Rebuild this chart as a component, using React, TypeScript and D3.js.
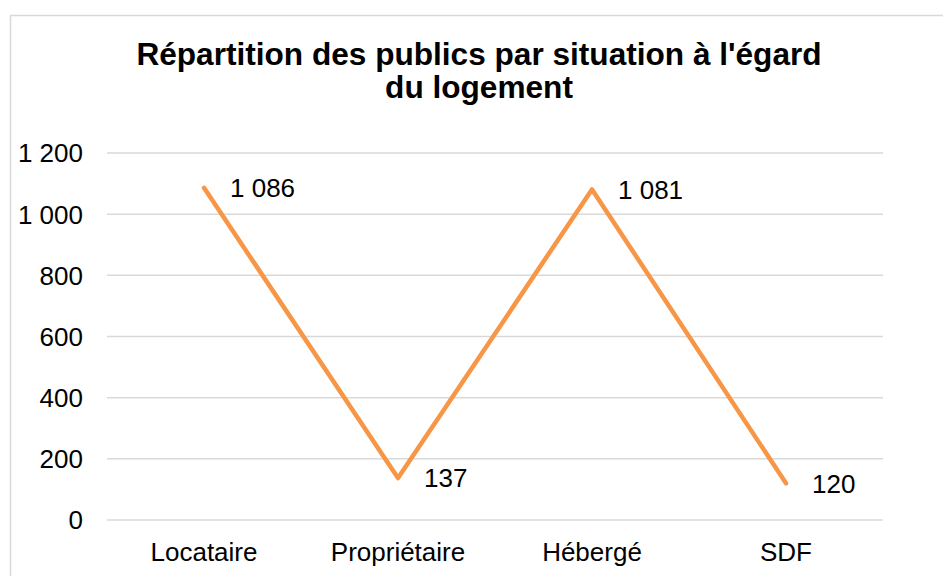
import React from "react";
import * as d3 from "d3";

const categories = ["Locataire", "Propriétaire", "Hébergé", "SDF"];
const values = [1086, 137, 1081, 120];
const yTicks = [0, 200, 400, 600, 800, 1000, 1200];
const titleLines = ["Répartition des publics par situation à l'égard", "du logement"];

const W = 943;
const H = 576;
const FONT = "Liberation Sans, Arial, sans-serif";

const fmt = (v: number) => d3.format(",")(v).replace(/,/g, " ");

export default function App() {
  const x = d3.scaleBand<string>().domain(categories).range([107, 883]);
  const y = d3.scaleLinear().domain([0, 1200]).range([520, 153]);
  const cx = (c: string) => (x(c) as number) + x.bandwidth() / 2;
  const line = d3
    .line<number>()
    .x((_, i) => cx(categories[i]))
    .y((d) => y(d));

  return (
    <svg
      width={W}
      height={H}
      style={{ position: "absolute", left: 0, top: 0, background: "#fff" }}
      fontFamily={FONT}
    >
      <rect x={0} y={0} width={W} height={H} fill="#fff" />
      <rect x={10.5} y={15.5} width={W + 20} height={H + 20} fill="#fff" stroke="#d9d9d9" strokeWidth={1.5} />
      {titleLines.map((t, i) => (
        <text key={i} x={479} y={65 + i * 33} textAnchor="middle" fontSize={31.6} fontWeight="bold" fill="#000">
          {t}
        </text>
      ))}
      {yTicks.map((t) => (
        <g key={t}>
          <line x1={107} x2={883} y1={y(t)} y2={y(t)} stroke="#d9d9d9" strokeWidth={1.5} />
          <text x={83} y={y(t)} dy="0.36em" textAnchor="end" fontSize={26} fill="#000">
            {fmt(t)}
          </text>
        </g>
      ))}
      {categories.map((c) => (
        <text key={c} x={cx(c)} y={561} textAnchor="middle" fontSize={26} fill="#000">
          {c}
        </text>
      ))}
      <path d={line(values) || ""} fill="none" stroke="#f79646" strokeWidth={4.5} strokeLinecap="round" strokeLinejoin="round" />
      {values.map((v, i) => (
        <text key={i} x={cx(categories[i]) + 26} y={y(v)} dy="0.36em" fontSize={26} fill="#000">
          {fmt(v)}
        </text>
      ))}
    </svg>
  );
}
